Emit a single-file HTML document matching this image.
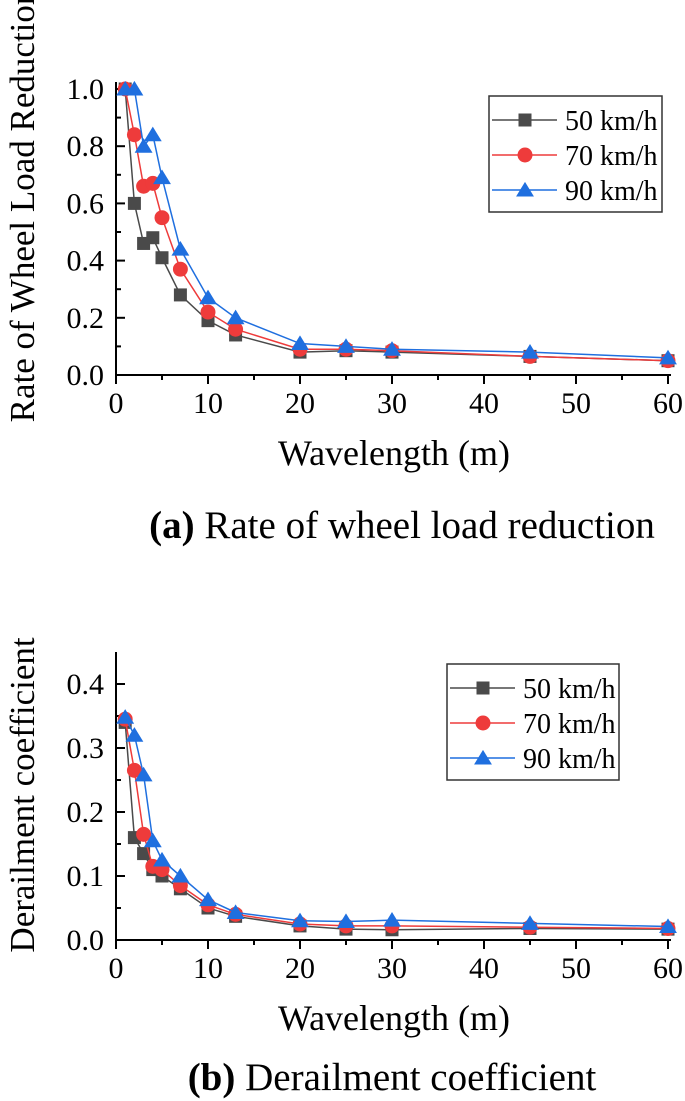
<!DOCTYPE html>
<html><head><meta charset="utf-8">
<style>
html,body{margin:0;padding:0;background:#fff;}
svg{display:block;font-family:"Liberation Serif",serif;}
</style></head>
<body>
<svg id="svg" width="685" height="1101" viewBox="0 0 685 1101"></svg>
<script>
const wavelengths = [1,2,3,4,5,7,10,13,20,25,30,45,60];
const seriesLabels = ["50 km/h","70 km/h","90 km/h"];
const rateSpeed50 = [1.0,0.60,0.46,0.48,0.41,0.28,0.19,0.14,0.08,0.085,0.08,0.065,0.05];
const rateSpeed70 = [1.0,0.84,0.66,0.67,0.55,0.37,0.22,0.16,0.09,0.09,0.085,0.065,0.05];
const rateSpeed90 = [1.0,1.0,0.80,0.84,0.69,0.44,0.27,0.20,0.11,0.10,0.09,0.08,0.06];
const derSpeed50 = [0.34,0.16,0.135,0.11,0.10,0.08,0.05,0.037,0.022,0.017,0.016,0.018,0.017];
const derSpeed70 = [0.345,0.265,0.165,0.115,0.11,0.085,0.055,0.04,0.025,0.022,0.022,0.02,0.018];
const derSpeed90 = [0.348,0.32,0.258,0.155,0.125,0.10,0.063,0.043,0.03,0.029,0.031,0.026,0.021];
const xTicks = [0,10,20,30,40,50,60];
const rateYTicks = [0,0.2,0.4,0.6,0.8,1.0];
const rateYTickLabels = ["0.0","0.2","0.4","0.6","0.8","1.0"];
const derYTicks = [0,0.1,0.2,0.3,0.4];
const derYTickLabels = ["0.0","0.1","0.2","0.3","0.4"];

const NS="http://www.w3.org/2000/svg";
const svg=document.getElementById('svg');
const colors=["#4a4a4a","#ee3b3b","#1f6fdf"];
function mk(tag,attrs,parent){const e=document.createElementNS(NS,tag);for(const k in attrs)e.setAttribute(k,attrs[k]);(parent||svg).appendChild(e);return e;}

function marker(g,type,cx,cy,color,s){
  let e;
  if(type===0){e=mk('rect',{x:cx-s,y:cy-s,width:2*s,height:2*s,fill:color},g);}
  else if(type===1){e=mk('circle',{cx:cx,cy:cy,r:s*1.15,fill:color},g);}
  else {const h=s*1.25;e=mk('polygon',{points:`${cx},${cy-h} ${cx+h*1.1},${cy+h*0.8} ${cx-h*1.1},${cy+h*0.8}`,fill:color},g);}
  return e;
}

function chart(cfg){
  const g=mk('g',{});
  
  
  const x0=116,x1=671;
  const xs=v=>x0+(v/60)*(x1-x0-3);
  const ys=v=>cfg.yBot-(v/cfg.yMax)*(cfg.yBot-cfg.yTopVal);
  const ax=mk('path',{d:`M${x0},${cfg.yAxisTop} V${cfg.yBot} H${x1}`,stroke:'#000','stroke-width':2,fill:'none'},g);
  
  
  for(let i=0;i<=12;i++){const v=i*5;const x=xs(v);mk('line',{x1:x,x2:x,y1:cfg.yBot,y2:cfg.yBot+(i%2?5:9),stroke:'#000','stroke-width':2},g);}
  xTicks.forEach(v=>{const t=mk('text',{x:xs(v),y:cfg.yBot+38,'text-anchor':'middle','font-size':30},g);t.textContent=v;
    });
  const step=cfg.yTicks[1]-cfg.yTicks[0];
  for(let v=0;v<=cfg.yMax+1e-9;v+=step/2){const y=ys(v);const major=Math.abs(Math.round(v/step)*step-v)<1e-9;
    mk('line',{x1:x0,x2:x0+(major?9:5),y1:y,y2:y,stroke:'#000','stroke-width':2},g);}
  cfg.yTicks.forEach((v,i)=>{const t=mk('text',{x:x0-12,y:ys(v)+10,'text-anchor':'end','font-size':30},g);t.textContent=cfg.yLabels[i];
    });
  const xt=mk('text',{x:394,y:cfg.yBot+90,'text-anchor':'middle','font-size':36},g);xt.textContent='Wavelength (m)';
  
  const yt=mk('text',{x:0,y:0,'text-anchor':'middle','font-size':35,transform:`translate(34,${cfg.yTitleY}) rotate(-90)`},g);yt.textContent=cfg.yTitle;
  
  cfg.series.forEach((data,si)=>{
    const sg=mk('g',{},g);
    
    
    const pts=data.map((v,i)=>xs(wavelengths[i])+','+ys(v)).join(' ');
    mk('polyline',{points:pts,fill:'none',stroke:colors[si],'stroke-width':1.5},sg);
    data.forEach((v,i)=>{const m=marker(sg,si,xs(wavelengths[i]),ys(v),colors[si],6.5);
      });
  });
  const lg=mk('g',{},g);
  
  
  const L=cfg.legend;
  mk('rect',{x:L.x,y:L.y,width:L.w,height:116,fill:'#fff',stroke:'#333','stroke-width':1.5},lg);
  seriesLabels.forEach((lab,i)=>{const y=L.y+24+i*35;
    const e=mk('g',{},lg);
    
    
    mk('line',{x1:L.x+3,x2:L.x+68,y1:y,y2:y,stroke:colors[i],'stroke-width':1.5},e);
    marker(e,i,L.x+36,y,colors[i],6.5);
    const t=mk('text',{x:L.x+76,y:y+10,'font-size':28},e);t.textContent=lab;});
  const c=mk('text',{x:cfg.capX,y:cfg.capY,'text-anchor':'middle','font-size':39},g);
  
  const b=mk('tspan',{'font-weight':'bold'},c);b.textContent=cfg.capBold;
  const r=mk('tspan',{},c);r.textContent=cfg.capText;
}

chart({name:'chart-wheel-load-reduction',yBot:375,yTopVal:89,yMax:1.0,yAxisTop:82,yTicks:rateYTicks,yLabels:rateYTickLabels,
  yTitle:'Rate of Wheel Load Reduction',yTitleY:205,series:[rateSpeed50,rateSpeed70,rateSpeed90],
  legend:{x:489,y:96,w:173},capX:402,capY:538,capBold:'(a)',capText:' Rate of wheel load reduction'});
chart({name:'chart-derailment-coefficient',yBot:940,yTopVal:684,yMax:0.4,yAxisTop:652,yTicks:derYTicks,yLabels:derYTickLabels,
  yTitle:'Derailment coefficient',yTitleY:795,series:[derSpeed50,derSpeed70,derSpeed90],
  legend:{x:447,y:664,w:172},capX:392,capY:1090,capBold:'(b)',capText:' Derailment coefficient'});
</script>
</body></html>
